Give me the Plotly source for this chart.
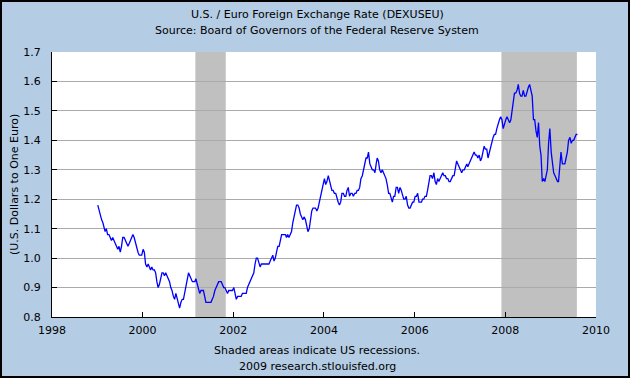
import plotly.graph_objects as go
import pandas as pd

# Three readings per month (early / mid / late), Jan 1999 .. Jul 2009, plus Aug 2009 start
start_year = 1999
rates = [
    # 1999
    1.18, 1.16, 1.15, 1.13, 1.12, 1.10, 1.09, 1.10, 1.08, 1.08, 1.07, 1.06,
    1.07, 1.06, 1.05, 1.04, 1.03, 1.04, 1.02, 1.04, 1.07, 1.07, 1.06, 1.05,
    1.04, 1.05, 1.06, 1.07, 1.08, 1.07, 1.05, 1.03, 1.02, 1.01, 1.01, 1.01,
    # 2000
    1.03, 1.02, 0.98, 0.97, 0.98, 0.97, 0.96, 0.97, 0.96, 0.96, 0.95, 0.92,
    0.90, 0.91, 0.93, 0.95, 0.95, 0.94, 0.95, 0.94, 0.93, 0.92, 0.90, 0.89,
    0.87, 0.86, 0.88, 0.86, 0.85, 0.83, 0.85, 0.86, 0.86, 0.88, 0.90, 0.93,
    # 2001
    0.95, 0.94, 0.93, 0.92, 0.92, 0.92, 0.93, 0.91, 0.89, 0.88, 0.89, 0.89,
    0.89, 0.87, 0.85, 0.85, 0.85, 0.85, 0.85, 0.86, 0.87, 0.89, 0.90, 0.91,
    0.92, 0.92, 0.92, 0.91, 0.90, 0.90, 0.89, 0.88, 0.89, 0.89, 0.89, 0.89,
    # 2002
    0.90, 0.88, 0.86, 0.87, 0.87, 0.87, 0.87, 0.88, 0.88, 0.88, 0.88, 0.90,
    0.91, 0.92, 0.93, 0.94, 0.95, 0.98, 1.00, 1.00, 0.98, 0.97, 0.98, 0.98,
    0.98, 0.98, 0.98, 0.98, 0.98, 0.99, 1.00, 1.01, 0.99, 1.00, 1.02, 1.04,
    # 2003
    1.04, 1.06, 1.08, 1.08, 1.08, 1.08, 1.07, 1.08, 1.07, 1.08, 1.09, 1.12,
    1.14, 1.16, 1.18, 1.18, 1.17, 1.15, 1.14, 1.13, 1.14, 1.13, 1.11, 1.09,
    1.10, 1.13, 1.16, 1.17, 1.17, 1.17, 1.16, 1.17, 1.19, 1.21, 1.23, 1.25,
    # 2004
    1.27, 1.25, 1.26, 1.28, 1.26, 1.24, 1.23, 1.23, 1.22, 1.22, 1.20, 1.19,
    1.18, 1.19, 1.22, 1.22, 1.21, 1.21, 1.23, 1.24, 1.21, 1.22, 1.22, 1.21,
    1.22, 1.22, 1.23, 1.23, 1.24, 1.27, 1.28, 1.30, 1.32, 1.34, 1.34, 1.36,
    # 2005
    1.32, 1.31, 1.30, 1.30, 1.29, 1.32, 1.34, 1.33, 1.30, 1.29, 1.30, 1.29,
    1.28, 1.27, 1.25, 1.22, 1.22, 1.20, 1.19, 1.21, 1.21, 1.24, 1.24, 1.22,
    1.24, 1.23, 1.21, 1.20, 1.20, 1.21, 1.18, 1.17, 1.17, 1.18, 1.19, 1.19,
    # 2006
    1.21, 1.21, 1.22, 1.19, 1.19, 1.19, 1.20, 1.20, 1.21, 1.21, 1.23, 1.25,
    1.28, 1.28, 1.27, 1.29, 1.26, 1.25, 1.27, 1.26, 1.27, 1.28, 1.29, 1.28,
    1.28, 1.27, 1.27, 1.26, 1.26, 1.27, 1.28, 1.28, 1.31, 1.33, 1.32, 1.31,
    # 2007
    1.30, 1.29, 1.30, 1.30, 1.31, 1.32, 1.31, 1.32, 1.33, 1.34, 1.35, 1.36,
    1.35, 1.35, 1.34, 1.35, 1.33, 1.34, 1.36, 1.38, 1.37, 1.37, 1.34, 1.36,
    1.37, 1.39, 1.41, 1.42, 1.42, 1.44, 1.46, 1.47, 1.48, 1.47, 1.44, 1.46,
    # 2008
    1.47, 1.48, 1.47, 1.46, 1.47, 1.50, 1.53, 1.56, 1.56, 1.57, 1.59, 1.56,
    1.55, 1.55, 1.57, 1.55, 1.55, 1.57, 1.58, 1.59, 1.57, 1.55, 1.47, 1.47,
    1.43, 1.41, 1.46, 1.38, 1.35, 1.26, 1.27, 1.26, 1.28, 1.30, 1.39, 1.44,
    # 2009
    1.36, 1.32, 1.29, 1.28, 1.27, 1.26, 1.26, 1.30, 1.36, 1.32, 1.32, 1.32,
    1.34, 1.36, 1.40, 1.41, 1.39, 1.40, 1.40, 1.41, 1.42, 1.42,
]
reading_days = [5, 15, 25]

recessions = [("2001-03-01", "2001-11-01"), ("2007-12-01", "2009-07-31")]

title_lines = ["U.S. / Euro Foreign Exchange Rate (DEXUSEU)",
               "Source: Board of Governors of the Federal Reserve System"]
footer_lines = ["Shaded areas indicate US recessions.", "2009 research.stlouisfed.org"]
y_title = "(U.S. Dollars to One Euro)"

dates = []
for i in range(len(rates)):
    m = i // 3
    y = start_year + m // 12
    mo = m % 12 + 1
    dates.append(pd.Timestamp(year=y, month=mo, day=reading_days[i % 3]))

W, H = 630, 378
L, R, T, B = 52, 34, 52, 61
pw, ph = W - L - R, H - T - B

def px_x(x):
    return (x - L) / pw

def px_y(y):
    return (H - B - y) / ph

fig = go.Figure()
fig.add_trace(go.Scatter(x=dates, y=rates, mode="lines",
                         line=dict(color="#0000FF", width=1.3), hoverinfo="skip"))

shapes = []
for a, b in recessions:
    shapes.append(dict(type="rect", xref="x", yref="paper", x0=a, x1=b, y0=0, y1=1,
                       fillcolor="#C0C0C0", line=dict(width=0), layer="between"))
# outer frame
shapes.append(dict(type="rect", xref="paper", yref="paper",
                   x0=px_x(1), x1=px_x(W - 1), y0=px_y(H - 1), y1=px_y(1),
                   line=dict(color="#000000", width=2), fillcolor="rgba(0,0,0,0)",
                   layer="above"))

font = dict(family="DejaVu Sans", size=11, color="#000000")
annotations = []
for txt, ypx in zip(title_lines, [14, 30]):
    annotations.append(dict(text=txt, xref="paper", yref="paper", x=px_x(317), y=px_y(ypx),
                            showarrow=False, xanchor="center", yanchor="middle", font=font))
for txt, ypx in zip(footer_lines, [350, 366]):
    annotations.append(dict(text=txt, xref="paper", yref="paper", x=px_x(317), y=px_y(ypx),
                            showarrow=False, xanchor="center", yanchor="middle", font=font))
# y-axis title placed explicitly
annotations.append(dict(text=y_title, xref="paper", yref="paper", x=px_x(14), y=px_y(185),
                        showarrow=False, xanchor="center", yanchor="middle", textangle=-90,
                        font=font))

fig.update_layout(
    width=W, height=H,
    margin=dict(l=L, r=R, t=T, b=B, pad=0, autoexpand=False),
    paper_bgcolor="#B4CCE4",
    plot_bgcolor="#FFFFFF",
    showlegend=False,
    font=font,
    shapes=shapes,
    annotations=annotations,
    xaxis=dict(type="date", range=["1998-01-01", "2010-01-01"], dtick="M24",
               tick0="1998-01-01", tickformat="%Y", ticks="inside", ticklen=5,
               tickcolor="#000000", showline=True, linecolor="#000000", linewidth=1,
               showgrid=False, zeroline=False, tickfont=font, ticklabelstandoff=3,
               automargin=False),
    yaxis=dict(range=[0.8, 1.7], dtick=0.1, tick0=0.8, tickformat=".1f",
               ticks="inside", ticklen=5, tickcolor="#000000",
               showline=True, linecolor="#000000", linewidth=1,
               showgrid=True, gridcolor="#AAAAAA", gridwidth=1, zeroline=False,
               tickfont=font, ticklabelstandoff=8, automargin=False),
)

fig.write_html("out.html", config={"displayModeBar": False},
               post_script="document.body.style.margin='0';document.body.style.overflow='hidden';")
